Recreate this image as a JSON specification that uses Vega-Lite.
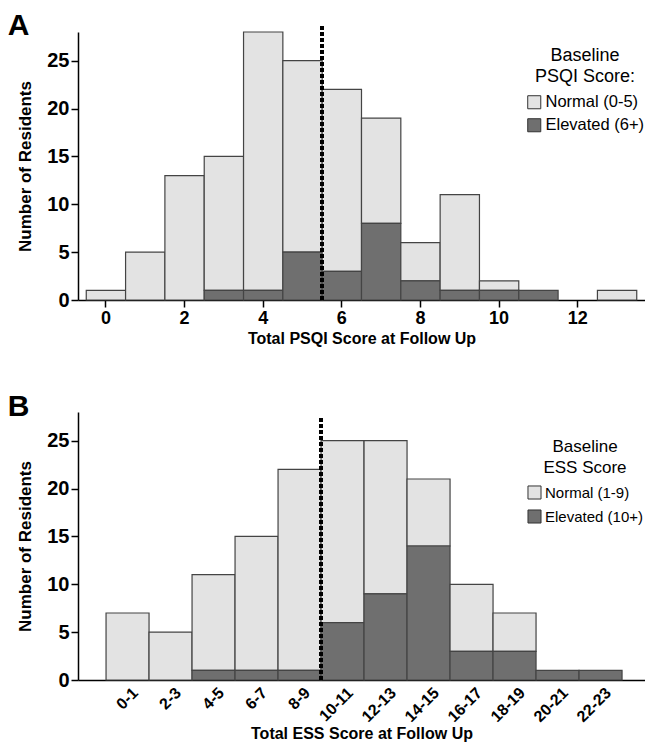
{
  "$schema": "https://vega.github.io/schema/vega-lite/v6.json",
  "padding": {"left": 7, "top": 10, "right": 0, "bottom": 0},
  "autosize": {"type": "pad"},
  "spacing": 46,
  "resolve": {"scale": {"color": "independent", "x": "independent"}, "legend": {"color": "independent"}},
  "config": {
    "view": {"stroke": null},
    "font": "Liberation Sans",
    "axis": {
      "grid": false,
      "domainColor": "black",
      "domainWidth": 1.5,
      "tickColor": "black",
      "tickWidth": 1.5,
      "tickSize": 7,
      "labelFont": "Liberation Sans",
      "labelFontWeight": "bold",
      "labelFontSize": 20,
      "labelColor": "black",
      "labelPadding": 2,
      "titleFont": "Liberation Sans",
      "titleFontSize": 17,
      "titleFontWeight": "bold",
      "titleColor": "black"
    },
    "legend": {
      "orient": "none",
      "symbolType": "square",
      "symbolSize": 170,
      "symbolStrokeColor": "#333333",
      "symbolStrokeWidth": 1,
      "labelFont": "Liberation Sans",
      "labelFontSize": 16.5,
      "labelColor": "black",
      "labelOffset": 3,
      "titleFont": "Liberation Sans",
      "titleFontSize": 18,
      "titleFontWeight": "normal",
      "titleColor": "black",
      "titleAlign": "center",
      "titleAnchor": "middle",
      "titleLineHeight": 21,
      "titlePadding": 8,
      "rowPadding": 5
    },
    "title": {"fontSize": 30, "fontWeight": "bold", "font": "Liberation Sans", "color": "black", "anchor": "start", "frame": "bounds"}
  },
  "vconcat": [
    {
      "title": {"text": "A", "anchor": "start", "frame": "bounds", "offset": -16, "dx": -9},
      "width": 567,
      "height": 268,
      "data": {"values": [
        {"score": 0, "group": "Normal (0-5)", "n": 1},
        {"score": 1, "group": "Normal (0-5)", "n": 5},
        {"score": 2, "group": "Normal (0-5)", "n": 13},
        {"score": 3, "group": "Normal (0-5)", "n": 14},
        {"score": 3, "group": "Elevated (6+)", "n": 1},
        {"score": 4, "group": "Normal (0-5)", "n": 27},
        {"score": 4, "group": "Elevated (6+)", "n": 1},
        {"score": 5, "group": "Normal (0-5)", "n": 20},
        {"score": 5, "group": "Elevated (6+)", "n": 5},
        {"score": 6, "group": "Normal (0-5)", "n": 19},
        {"score": 6, "group": "Elevated (6+)", "n": 3},
        {"score": 7, "group": "Normal (0-5)", "n": 11},
        {"score": 7, "group": "Elevated (6+)", "n": 8},
        {"score": 8, "group": "Normal (0-5)", "n": 4},
        {"score": 8, "group": "Elevated (6+)", "n": 2},
        {"score": 9, "group": "Normal (0-5)", "n": 10},
        {"score": 9, "group": "Elevated (6+)", "n": 1},
        {"score": 10, "group": "Normal (0-5)", "n": 1},
        {"score": 10, "group": "Elevated (6+)", "n": 1},
        {"score": 11, "group": "Elevated (6+)", "n": 1},
        {"score": 13, "group": "Normal (0-5)", "n": 1}
      ]},
      "layer": [
        {
          "mark": {"type": "bar", "stroke": "#444444", "strokeWidth": 1.2},
          "encoding": {
            "x": {"field": "score", "type": "ordinal",
              "scale": {"domain": [0,1,2,3,4,5,6,7,8,9,10,11,12,13], "paddingInner": 0, "paddingOuter": 0.21},
              "axis": {"values": [0,2,4,6,8,10,12], "labelAngle": 0, "labelFontSize": 18, "title": "Total PSQI Score at Follow Up", "titleFontSize": 16, "titlePadding": 3}},
            "y": {"field": "n", "type": "quantitative", "stack": "zero",
              "scale": {"domain": [0, 28]},
              "axis": {"values": [0,5,10,15,20,25], "title": "Number of Residents", "titlePadding": 12}},
            "color": {"field": "group", "type": "nominal",
              "scale": {"domain": ["Normal (0-5)", "Elevated (6+)"], "range": ["#e3e3e3", "#6f6f6f"]},
              "legend": {"title": ["Baseline", "PSQI Score:"], "legendX": 448, "legendY": 15}},
            "order": {"field": "group", "sort": "ascending"}
          }
        },
        {
          "mark": {"type": "rule", "strokeDash": [4, 2], "strokeWidth": 3, "color": "black"},
          "encoding": {
            "x": {"datum": 5, "type": "ordinal", "bandPosition": 1},
            "y": {"datum": 0},
            "y2": {"datum": 28.6}
          }
        }
      ]
    },
    {
      "title": {"text": "B", "anchor": "start", "frame": "bounds", "offset": -10, "dx": -9},
      "width": 567,
      "height": 268,
      "data": {"values": [
        {"range": "0-1", "group": "Normal (1-9)", "n": 7},
        {"range": "2-3", "group": "Normal (1-9)", "n": 5},
        {"range": "4-5", "group": "Normal (1-9)", "n": 10},
        {"range": "4-5", "group": "Elevated (10+)", "n": 1},
        {"range": "6-7", "group": "Normal (1-9)", "n": 14},
        {"range": "6-7", "group": "Elevated (10+)", "n": 1},
        {"range": "8-9", "group": "Normal (1-9)", "n": 21},
        {"range": "8-9", "group": "Elevated (10+)", "n": 1},
        {"range": "10-11", "group": "Normal (1-9)", "n": 19},
        {"range": "10-11", "group": "Elevated (10+)", "n": 6},
        {"range": "12-13", "group": "Normal (1-9)", "n": 16},
        {"range": "12-13", "group": "Elevated (10+)", "n": 9},
        {"range": "14-15", "group": "Normal (1-9)", "n": 7},
        {"range": "14-15", "group": "Elevated (10+)", "n": 14},
        {"range": "16-17", "group": "Normal (1-9)", "n": 7},
        {"range": "16-17", "group": "Elevated (10+)", "n": 3},
        {"range": "18-19", "group": "Normal (1-9)", "n": 4},
        {"range": "18-19", "group": "Elevated (10+)", "n": 3},
        {"range": "20-21", "group": "Elevated (10+)", "n": 1},
        {"range": "22-23", "group": "Elevated (10+)", "n": 1}
      ]},
      "layer": [
        {
          "mark": {"type": "bar", "stroke": "#444444", "strokeWidth": 1.2},
          "encoding": {
            "x": {"field": "range", "type": "ordinal",
              "scale": {"domain": ["0-1","2-3","4-5","6-7","8-9","10-11","12-13","14-15","16-17","18-19","20-21","22-23"], "paddingInner": 0, "paddingOuter": 0.593, "align": 0.55},
              "axis": {"ticks": false, "labelAngle": -45, "labelAlign": "right", "labelBaseline": "middle", "labelFontSize": 16, "labelPadding": 10, "labelOffset": 8, "title": "Total ESS Score at Follow Up", "titleFontSize": 16, "titlePadding": 1}},
            "y": {"field": "n", "type": "quantitative", "stack": "zero",
              "scale": {"domain": [0, 28]},
              "axis": {"values": [0,5,10,15,20,25], "title": "Number of Residents", "titlePadding": 12}},
            "color": {"field": "group", "type": "nominal",
              "scale": {"domain": ["Normal (1-9)", "Elevated (10+)"], "range": ["#e3e3e3", "#6f6f6f"]},
              "legend": {"title": ["Baseline", "ESS Score"], "titleFontSize": 17, "labelFontSize": 15, "legendX": 449, "legendY": 27}},
            "order": {"field": "group", "sort": "ascending"}
          }
        },
        {
          "mark": {"type": "rule", "strokeDash": [4, 2], "strokeWidth": 3, "color": "black"},
          "encoding": {
            "x": {"datum": "8-9", "type": "ordinal", "bandPosition": 1},
            "y": {"datum": 0},
            "y2": {"datum": 27.4}
          }
        }
      ]
    }
  ]
}
